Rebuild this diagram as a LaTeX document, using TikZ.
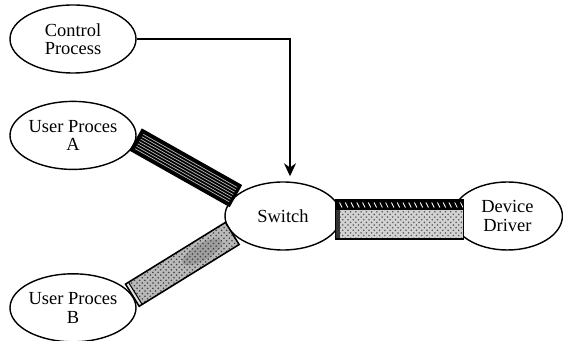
\documentclass[tikz,border=0pt]{standalone}
\usepackage{fontspec}
\setmainfont{Liberation Serif}
\usetikzlibrary{positioning,shapes.geometric,arrows.meta,calc,patterns}

\begin{document}
\begin{tikzpicture}[
    proc/.style={ellipse, draw, line width=0.8pt, fill=white,
      minimum width=2.52cm, minimum height=1.36cm, inner sep=0pt,
      align=center, font=\fontsize{10.5}{10.5}\selectfont},
    semithick]
    \useasboundingbox (0,0) rectangle (11.26,6.82);
    \node[proc] (ctrl) at (1.46,6.04) {Control\\Process};
    \node[proc] (userA) [below=0.54cm of ctrl] {User Proces\\A};
    \node[proc] (userB) [below=2.06cm of userA] {User Proces\\B};
    \node[proc, minimum width=2.32cm] (switch) at (5.66,2.5) {Switch};
    \node[proc, minimum width=2.2cm] (driver) [right=2.2cm of switch] {Device\\Driver};

    % control line into the switch
    \coordinate (drop) at ([xshift=0.14cm,yshift=0.1cm]switch.north);
    \draw[-{Stealth[length=0.26cm,width=0.24cm]}, line width=1pt] (ctrl.east) -| (drop);

    % striped link A
    \coordinate (a1) at ($(userA.-4)!0.24cm!90:(switch.157)$);
    \coordinate (a2) at ($(userA.-4)!0.24cm!-90:(switch.157)$);
    \coordinate (a3) at ($(switch.157)!0.24cm!90:(userA.-4)$);
    \coordinate (a4) at ($(switch.157)!0.24cm!-90:(userA.-4)$);
    \filldraw[line width=0.8pt] (a1) -- (a2) -- (a3) -- (a4) -- cycle;
    \foreach \o in {-0.165,-0.11,...,0.17}
      \draw[gray!55, line width=0.4pt, shorten <=0.07cm, shorten >=0.05cm]
        ($(userA.-4)!\o*1cm!90:(switch.157)$) -- ($(switch.157)!\o*1cm!-90:(userA.-4)$);

    % grey link B
    \coordinate (b1) at ($(userB.12)!0.26cm!90:(switch.199)$);
    \coordinate (b2) at ($(userB.12)!0.26cm!-90:(switch.199)$);
    \coordinate (b3) at ($(switch.199)!0.26cm!90:(userB.12)$);
    \coordinate (b4) at ($(switch.199)!0.26cm!-90:(userB.12)$);
    \fill[gray!55] (b1) -- (b2) -- (b3) -- (b4) -- cycle;
    \fill[gray!30!black, opacity=0.18] ($(userB.12)!0.7!(switch.199)$) ellipse [x radius=0.45cm, y radius=0.17cm, rotate=30];
    \fill[pattern=crosshatch dots, pattern color=gray!50!black] (b1) -- (b2) -- (b3) -- (b4) -- cycle;
    \fill[gray!20] (b1) -- (b2) -- ($(b2)!0.07cm!(b3)$) -- ($(b1)!0.07cm!(b4)$) -- cycle;
    \draw ($(b2)!0.07cm!(b3)$) -- ($(b1)!0.07cm!(b4)$);
    \draw[line width=0.9pt] (b1) -- (b2) -- (b3) -- (b4) -- cycle;

    % box link to the driver
    \coordinate (d1) at ([xshift=-0.12cm,yshift=0.32cm]switch.east);
    \coordinate (d2) at ([xshift=0.24cm,yshift=-0.46cm]driver.west);
    \coordinate (d3) at (d2|-d1);
    \fill[gray!35] (d1) rectangle (d2);
    \fill[pattern=crosshatch dots, pattern color=gray!70!black] (d1) rectangle (d2);
    \fill (d1) rectangle ($(d3)+(0,-0.2)$);
    \fill[black!80] ($(d1)+(0,-0.2)$) rectangle ($(d1|-d2)+(0.09,0)$);
    \foreach \t in {0.03,0.075,...,0.98}
      \draw[white, line width=0.5pt] ($(d1)!\t!(d3)+(0,-0.05)$) -- ++(0.05,-0.1);
    \draw[line width=0.8pt] (d1) rectangle (d2);
\end{tikzpicture}
\end{document}
